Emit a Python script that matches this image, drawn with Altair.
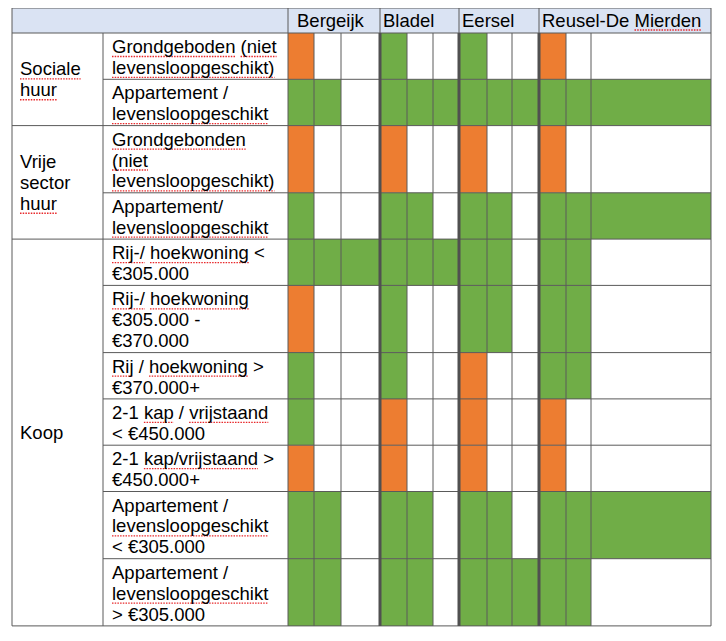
import altair as alt
import pandas as pd

# ---------------- data ----------------
municipalities = ["Bergeijk", "Bladel", "Eersel", "Reusel-De Mierden"]
groups = ["Sociale\nhuur", "Vrije\nsector\nhuur", "Koop"]
group_rows = [2, 2, 7]
types = [
    "Grondgeboden (niet\nlevensloopgeschikt)",
    "Appartement /\nlevensloopgeschikt",
    "Grondgebonden\n(niet\nlevensloopgeschikt)",
    "Appartement/\nlevensloopgeschikt",
    "Rij-/ hoekwoning <\n€305.000",
    "Rij-/ hoekwoning\n€305.000 -\n€370.000",
    "Rij / hoekwoning >\n€370.000+",
    "2-1 kap / vrijstaand\n< €450.000",
    "2-1 kap/vrijstaand >\n€450.000+",
    "Appartement /\nlevensloopgeschikt\n< €305.000",
    "Appartement /\nlevensloopgeschikt\n> €305.000",
]
# per row, per municipality: 3 sub-columns  (o = orange, g = green, - = empty)
status = [
    ["o--", "g--", "g--", "o--"],
    ["gg-", "ggg", "ggg", "ggg"],
    ["o--", "o--", "o--", "o--"],
    ["g--", "gg-", "gg-", "ggg"],
    ["ggg", "ggg", "gg-", "gg-"],
    ["o--", "g--", "gg-", "gg-"],
    ["g--", "g--", "o--", "gg-"],
    ["g--", "o--", "o--", "o--"],
    ["o--", "o--", "o--", "o--"],
    ["gg-", "gg-", "gg-", "ggg"],
    ["gg-", "gg-", "ggg", "gg-"],
]
colors = {"o": "#ED7D31", "g": "#70AD47"}
# words marked by the spell checker (red wavy underline)
flagged = {"Grondgeboden", "(niet", "levensloopgeschikt)", "levensloopgeschikt",
           "Grondgebonden", "Rij-/", "Rij", "hoekwoning", "kap", "vrijstaand",
           "kap/vrijstaand", "Sociale", "huur", "Mierden"}

# ---------------- layout ----------------
X_EDGES = [12, 103, 288, 314, 341, 380, 407, 433, 459, 487, 512, 539, 566, 591, 711]
TOP, HEAD_BOTTOM = 8, 33
LINE_H, ROW_PAD = 20.9, 4.5
FONT, FS = "Liberation Sans", 18.5
header_pad = [9, 3, 3, 3]
GRID = "#5a5a5a"

# Arial / Liberation Sans advance widths (per 1000 em) for text measuring
AW = {c: 556 for c in "abdegnopqu0123456789€"}
AW.update({c: 500 for c in "cksvxyzJ"})
AW.update({"f": 278, "i": 222, "j": 222, "l": 222, "m": 833, "r": 333, "t": 278, "w": 722,
           "A": 667, "B": 667, "C": 722, "D": 722, "E": 667, "G": 778, "K": 667, "M": 833,
           "R": 722, "S": 667, "V": 667, " ": 278, "(": 333, ")": 333, "/": 278, "-": 333,
           "<": 584, ">": 584, "+": 584, ".": 278})

def tw(s):
    return sum(AW.get(ch, 556) for ch in s) * FS / 1000.0

row_edges = [HEAD_BOTTOM]
for t in types:
    n = t.count("\n") + 1
    row_edges.append(row_edges[-1] + ROW_PAD + LINE_H * n)
BOTTOM = row_edges[-1]
LEFT, RIGHT = X_EDGES[0], X_EDGES[-1]

xs = alt.Scale(domain=[8, 718], nice=False, zero=False)
ys = alt.Scale(domain=[633, 8], nice=False, zero=False)

def X(f):
    return alt.X(f, type="quantitative", scale=xs, axis=None)

def Y(f):
    return alt.Y(f, type="quantitative", scale=ys, axis=None)

# header background
head_df = pd.DataFrame([{"x": LEFT, "x2": RIGHT, "y": TOP, "y2": HEAD_BOTTOM}])
head = alt.Chart(head_df).mark_rect(color="#DAE3F3").encode(
    x=X("x"), x2="x2", y=Y("y"), y2="y2")

# colored cells
cells = []
for r, row in enumerate(status):
    for m, s in enumerate(row):
        for k, ch in enumerate(s):
            if ch in colors:
                c = 2 + 3 * m + k
                cells.append({"x": X_EDGES[c], "x2": X_EDGES[c + 1],
                              "y": row_edges[r], "y2": row_edges[r + 1],
                              "status": ch})
cell_df = pd.DataFrame(cells)
cell_layer = alt.Chart(cell_df).mark_rect().encode(
    x=X("x"), x2="x2", y=Y("y"), y2="y2",
    color=alt.Color("status:N", scale=alt.Scale(domain=list(colors.keys()),
                                                range=list(colors.values())),
                    legend=None))

# grid lines
thin = []
group_edges = [0]
for g in group_rows:
    group_edges.append(group_edges[-1] + g)
for i, y in enumerate(row_edges):
    full = i in group_edges
    thin.append({"x": LEFT if full else X_EDGES[1], "x2": RIGHT, "y": y, "y2": y})
thin.append({"x": LEFT, "x2": RIGHT, "y": TOP, "y2": TOP})
thick_cols = [5, 8, 11]
for c, x in enumerate(X_EDGES):
    if c in (0, 2, len(X_EDGES) - 1):
        thin.append({"x": x, "x2": x, "y": TOP, "y2": BOTTOM})
    elif c in thick_cols:
        thin.append({"x": x, "x2": x, "y": TOP, "y2": HEAD_BOTTOM})
    else:
        thin.append({"x": x, "x2": x, "y": HEAD_BOTTOM, "y2": BOTTOM})
thin_df = pd.DataFrame(thin)
thin_layer = alt.Chart(thin_df).mark_rule(color=GRID, strokeWidth=1).encode(
    x=X("x"), x2="x2", y=Y("y"), y2="y2")

thick_df = pd.DataFrame([{"x": X_EDGES[c], "y": HEAD_BOTTOM, "y2": BOTTOM} for c in thick_cols])
thick_layer = alt.Chart(thick_df).mark_rule(color="#505050", strokeWidth=3).encode(
    x=X("x"), y=Y("y"), y2="y2")

# texts (one record per line, baseline alphabetic) + squiggle underlines
lines = []
squig = []

def add_text(x, y_base, text):
    for i, ln in enumerate(text.split("\n")):
        yb = y_base + i * LINE_H
        lines.append({"x": x, "y": yb, "t": ln})
        pos = 0
        for w in ln.split(" "):
            if w in flagged:
                x0 = x + tw(ln[:pos])
                squig.append({"x": x0, "x2": x0 + tw(w), "y": yb + 3.5})
            pos += len(w) + 1

for m, name in enumerate(municipalities):
    add_text(X_EDGES[2 + 3 * m] + header_pad[m], HEAD_BOTTOM - 6.5, name)

for i, g in enumerate(groups):
    y0 = row_edges[group_edges[i]]
    y1 = row_edges[group_edges[i + 1]]
    n = g.count("\n") + 1
    first = (y0 + y1) / 2 - (n - 1) / 2 * LINE_H + 6.5
    add_text(LEFT + 8, first, g)

for r, t in enumerate(types):
    add_text(X_EDGES[1] + 9, row_edges[r] + 20, t)

squig_layer = alt.Chart(pd.DataFrame(squig)).mark_rule(
    color="#E8282B", strokeWidth=1.3, strokeDash=[1.5, 1.2]).encode(
    x=X("x"), x2="x2", y=Y("y"))

txt_layer = alt.Chart(pd.DataFrame(lines)).mark_text(
    align="left", baseline="alphabetic", font=FONT, fontSize=FS, color="#000").encode(
    x=X("x"), y=Y("y"), text="t:N")

chart = alt.layer(head, cell_layer, thin_layer, thick_layer, squig_layer, txt_layer).properties(
    width=710, height=625, padding=0, autosize="none", background="white"
).configure_view(stroke=None)

chart.save("out.html", embed_options={"renderer": "svg", "actions": False})
